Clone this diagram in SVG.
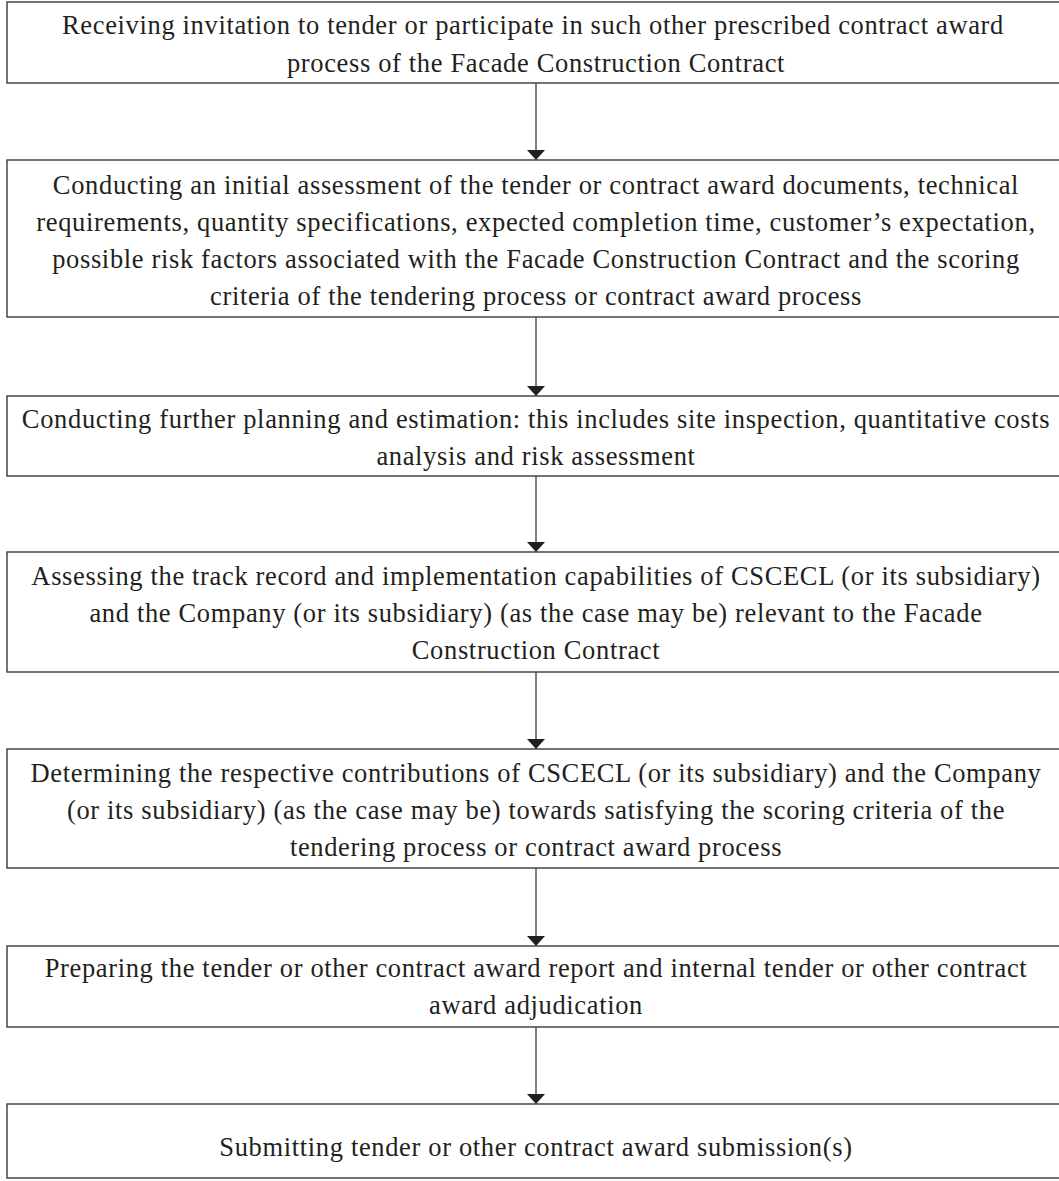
<svg xmlns="http://www.w3.org/2000/svg" width="1059" height="1181" viewBox="0 0 1059 1181">
<defs>
<style>
.box{fill:#fff;stroke:#3a3a3a;stroke-width:1.4}
.t{font-family:"Liberation Serif","Times New Roman",serif;font-size:26.5px;fill:#231f20;text-anchor:middle;letter-spacing:0.65px}
.c{stroke:#4a4a4a;stroke-width:1.4;fill:none}
</style>
<marker id="ah" markerUnits="userSpaceOnUse" markerWidth="12" markerHeight="20" refX="10" refY="9" orient="auto">
<path d="M0,0 L10,9 L0,18 Z" fill="#231f20"/>
</marker>
</defs>
<rect width="1059" height="1181" fill="#fff"/>
<g id="connectors">
<line class="c" x1="536" y1="83" x2="536" y2="160" marker-end="url(#ah)"/>
<line class="c" x1="536" y1="317" x2="536" y2="396" marker-end="url(#ah)"/>
<line class="c" x1="536" y1="476" x2="536" y2="552" marker-end="url(#ah)"/>
<line class="c" x1="536" y1="672" x2="536" y2="749" marker-end="url(#ah)"/>
<line class="c" x1="536" y1="868" x2="536" y2="946" marker-end="url(#ah)"/>
<line class="c" x1="536" y1="1027" x2="536" y2="1104" marker-end="url(#ah)"/>
</g>
<g id="n1">
<rect class="box" x="7" y="2" width="1070" height="81"/>
<text class="t" x="533" y="34">Receiving invitation to tender or participate in such other prescribed contract award</text>
<text class="t" x="536" y="72">process of the Facade Construction Contract</text>
</g>
<g id="n2">
<rect class="box" x="7" y="160" width="1070" height="157"/>
<text class="t" x="536" y="194">Conducting an initial assessment of the tender or contract award documents, technical</text>
<text class="t" x="536" y="231">requirements, quantity specifications, expected completion time, customer’s expectation,</text>
<text class="t" x="536" y="268">possible risk factors associated with the Facade Construction Contract and the scoring</text>
<text class="t" x="536" y="305">criteria of the tendering process or contract award process</text>
</g>
<g id="n3">
<rect class="box" x="7" y="396" width="1070" height="80"/>
<text class="t" x="536" y="428">Conducting further planning and estimation: this includes site inspection, quantitative costs</text>
<text class="t" x="536" y="465">analysis and risk assessment</text>
</g>
<g id="n4">
<rect class="box" x="7" y="552" width="1070" height="120"/>
<text class="t" x="536" y="585">Assessing the track record and implementation capabilities of CSCECL (or its subsidiary)</text>
<text class="t" x="536" y="622">and the Company (or its subsidiary) (as the case may be) relevant to the Facade</text>
<text class="t" x="536" y="659">Construction Contract</text>
</g>
<g id="n5">
<rect class="box" x="7" y="749" width="1070" height="119"/>
<text class="t" x="536" y="782">Determining the respective contributions of CSCECL (or its subsidiary) and the Company</text>
<text class="t" x="536" y="819">(or its subsidiary) (as the case may be) towards satisfying the scoring criteria of the</text>
<text class="t" x="536" y="856">tendering process or contract award process</text>
</g>
<g id="n6">
<rect class="box" x="7" y="946" width="1070" height="81"/>
<text class="t" x="536" y="977">Preparing the tender or other contract award report and internal tender or other contract</text>
<text class="t" x="536" y="1014">award adjudication</text>
</g>
<g id="n7">
<rect class="box" x="7" y="1104" width="1070" height="74"/>
<text class="t" x="536" y="1156">Submitting tender or other contract award submission(s)</text>
</g>
</svg>
